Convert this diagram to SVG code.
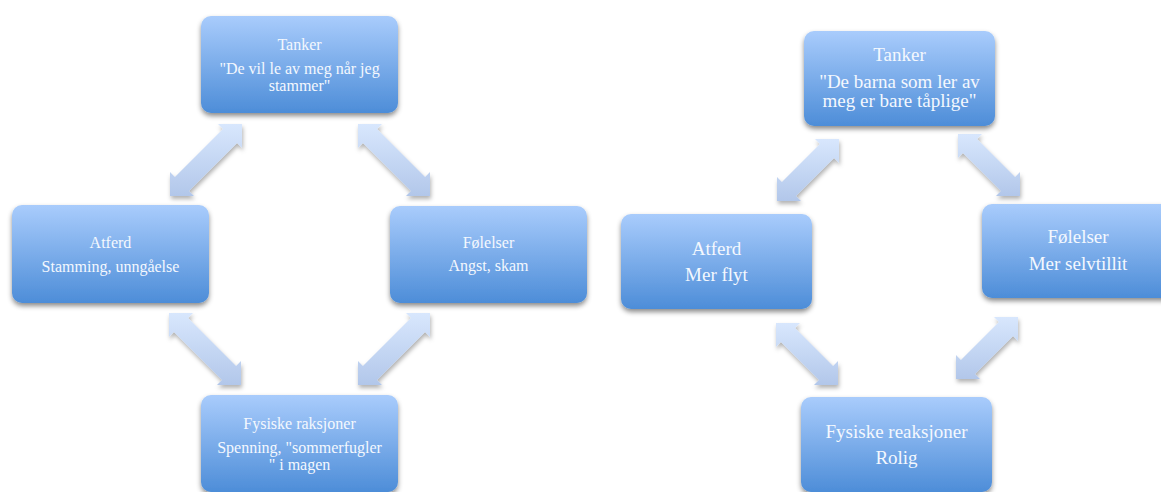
<svg xmlns="http://www.w3.org/2000/svg" width="1161" height="492" viewBox="0 0 1161 492">
<defs>
<linearGradient id="boxg" x1="0" y1="0" x2="0" y2="1">
<stop offset="0" stop-color="#a9ccfc"/>
<stop offset="1" stop-color="#4d8dd8"/>
</linearGradient>
<linearGradient id="arrg" x1="0" y1="0" x2="0" y2="1">
<stop offset="0" stop-color="#d8e7fd"/>
<stop offset="1" stop-color="#b2c7ea"/>
</linearGradient>
<filter id="sh" x="-20%" y="-20%" width="140%" height="150%">
<feDropShadow dx="0" dy="3" stdDeviation="2.5" flood-color="#000" flood-opacity="0.45"/>
</filter>
<filter id="ash" x="-20%" y="-20%" width="140%" height="140%">
<feDropShadow dx="1" dy="3" stdDeviation="2" flood-color="#000" flood-opacity="0.3"/>
</filter>
</defs>
<style>
.box{fill:url(#boxg);filter:url(#sh)}
.arr{fill:url(#arrg);filter:url(#ash)}
text{font-family:"Liberation Serif","Times New Roman",serif;fill:#f4f8fe;text-anchor:middle}
.s{font-size:16px}
.b{font-size:19px}
</style>
<rect width="1161" height="492" fill="#ffffff"/>
<g id="connectors">
<path class="arr" d="M170,196 L170,172 L174.93,176.93 L222.93,128.93 L218,124 L242,124 L242,148 L237.07,143.07 L189.07,191.07 L194,196 Z"/>
<path class="arr" d="M358,124 L382,124 L377.07,128.93 L425.07,176.93 L430,172 L430,196 L406,196 L410.93,191.07 L362.93,143.07 L358,148 Z"/>
<path class="arr" d="M169,313 L193,313 L188.07,317.93 L236.07,365.93 L241,361 L241,385 L217,385 L221.93,380.07 L173.93,332.07 L169,337 Z"/>
<path class="arr" d="M358,385 L358,361 L362.93,365.93 L410.93,317.93 L406,313 L430,313 L430,337 L425.07,332.07 L377.07,380.07 L382,385 Z"/>
<path class="arr" d="M777,201 L777,177 L781.93,181.93 L819.93,143.93 L815,139 L839,139 L839,163 L834.07,158.07 L796.07,196.07 L801,201 Z"/>
<path class="arr" d="M958,134 L982,134 L977.07,138.93 L1015.07,176.93 L1020,172 L1020,196 L996,196 L1000.93,191.07 L962.93,153.07 L958,158 Z"/>
<path class="arr" d="M776,323 L800,323 L795.07,327.93 L833.07,365.93 L838,361 L838,385 L814,385 L818.93,380.07 L780.93,342.07 L776,347 Z"/>
<path class="arr" d="M956,379 L956,355 L960.93,359.93 L998.93,321.93 L994,317 L1018,317 L1018,341 L1013.07,336.07 L975.07,374.07 L980,379 Z"/>
</g>
<g id="l-tanker">
<rect class="box" x="201" y="16" width="197" height="97" rx="10"/>
<text class="s" x="299.5" y="50">Tanker</text>
<text class="s" x="299.5" y="74">"De vil le av meg når jeg</text>
<text class="s" x="299.5" y="91">stammer"</text>
</g>
<g id="l-atferd">
<rect class="box" x="12" y="205" width="197" height="98" rx="10"/>
<text class="s" x="110.5" y="248">Atferd</text>
<text class="s" x="110.5" y="272">Stamming, unngåelse</text>
</g>
<g id="l-folelser">
<rect class="box" x="390" y="206" width="197" height="97" rx="10"/>
<text class="s" x="488.5" y="248">Følelser</text>
<text class="s" x="488.5" y="271">Angst, skam</text>
</g>
<g id="l-fysiske">
<rect class="box" x="201" y="395" width="197" height="97" rx="10"/>
<text class="s" x="299.5" y="429">Fysiske raksjoner</text>
<text class="s" x="299.5" y="453">Spenning, "sommerfugler</text>
<text class="s" x="299.5" y="470">" i magen</text>
</g>
<g id="r-tanker">
<rect class="box" x="804" y="31" width="191" height="95" rx="10"/>
<text class="b" x="899.5" y="61">Tanker</text>
<text class="b" x="899.5" y="88">"De barna som ler av</text>
<text class="b" x="899.5" y="107">meg er bare tåplige"</text>
</g>
<g id="r-atferd">
<rect class="box" x="621" y="214" width="191" height="95" rx="10"/>
<text class="b" x="716.5" y="255">Atferd</text>
<text class="b" x="716.5" y="281">Mer flyt</text>
</g>
<g id="r-folelser">
<rect class="box" x="982" y="204" width="192" height="94" rx="10"/>
<text class="b" x="1078" y="243">Følelser</text>
<text class="b" x="1078" y="270">Mer selvtillit</text>
</g>
<g id="r-fysiske">
<rect class="box" x="801" y="397" width="191" height="95" rx="10"/>
<text class="b" x="896.5" y="438">Fysiske reaksjoner</text>
<text class="b" x="896.5" y="464">Rolig</text>
</g>
</svg>
